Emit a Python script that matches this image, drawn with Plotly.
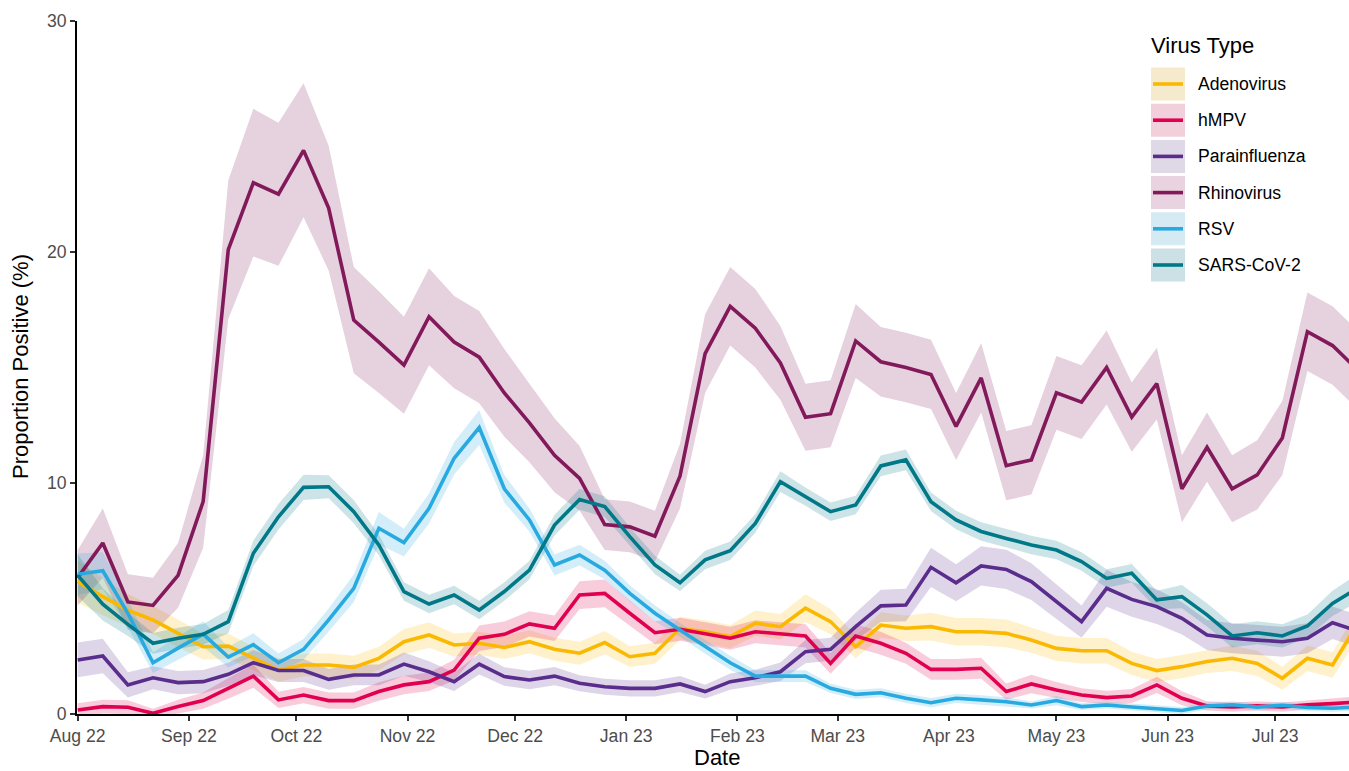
import pandas as pd
import plotly.graph_objects as go

# Weekly surveillance dates (week starting)
weeks = pd.date_range("2022-08-01", periods=52, freq="7D")

virus_types = ["Adenovirus", "hMPV", "Parainfluenza", "Rhinovirus", "RSV", "SARS-CoV-2"]

# Proportion positive (%) per week
adenovirus = [5.73, 5.08, 4.5, 4.07, 3.49, 2.91, 2.94, 2.41, 1.9, 2.12,
              2.12, 2.02, 2.41, 3.13, 3.42, 2.99, 3.06, 2.88, 3.13, 2.8,
              2.63, 3.09, 2.48, 2.63, 3.71, 3.56, 3.35, 3.93, 3.78, 4.58,
              4.0, 2.91, 3.85, 3.71, 3.78, 3.56, 3.56, 3.49, 3.2, 2.84,
              2.74, 2.74, 2.19, 1.88, 2.05, 2.27, 2.41, 2.19, 1.55, 2.41,
              2.12, 3.9]
hmpv = [0.17, 0.32, 0.29, 0.03, 0.32, 0.58, 1.11, 1.64, 0.61, 0.82,
        0.58, 0.58, 0.97, 1.26, 1.4, 1.9, 3.28, 3.45, 3.9, 3.71,
        5.15, 5.22, 4.36, 3.52, 3.67, 3.49, 3.28, 3.56, 3.46, 3.38,
        2.19, 3.38, 3.06, 2.63, 1.93, 1.93, 1.98, 0.97, 1.3, 1.04,
        0.82, 0.71, 0.78, 1.26, 0.68, 0.35, 0.3, 0.35, 0.3, 0.4,
        0.45, 0.52]
parainfluenza = [2.34, 2.51, 1.26, 1.57, 1.36, 1.40, 1.72, 2.22, 1.88, 1.88,
                 1.5, 1.69, 1.69, 2.16, 1.83, 1.40, 2.16, 1.62, 1.47, 1.64,
                 1.33, 1.18, 1.11, 1.11, 1.3, 0.97, 1.40, 1.57, 1.83, 2.7,
                 2.8, 3.78, 4.68, 4.72, 6.35, 5.68, 6.41, 6.26, 5.73, 4.86,
                 4.0, 5.44, 4.96, 4.65, 4.14, 3.42, 3.28, 3.2, 3.13, 3.28,
                 3.95, 3.6]
rhinovirus = [5.9, 7.4, 4.85, 4.7, 6.0, 9.2, 20.1, 23.0, 22.5, 24.4,
              21.9, 17.05, 16.1, 15.1, 17.2, 16.1, 15.45, 13.9, 12.6, 11.2,
              10.2, 8.2, 8.1, 7.7, 10.3, 15.6, 17.65, 16.7, 15.2, 12.85,
              13.0, 16.15, 15.25, 15.0, 14.7, 12.45, 14.55, 10.75, 11.0, 13.9,
              13.5, 15.0, 12.85, 14.3, 9.75, 11.55, 9.75, 10.35, 11.95, 16.55,
              15.95, 14.9]
rsv = [6.05, 6.2, 4.36, 2.22, 2.85, 3.46, 2.46, 3.0, 2.22, 2.8,
       4.07, 5.44, 8.04, 7.42, 8.9, 11.07, 12.4, 9.75, 8.4, 6.45,
       6.88, 6.23, 5.22, 4.36, 3.64, 2.91, 2.22, 1.64, 1.64, 1.64,
       1.11, 0.85, 0.92, 0.68, 0.49, 0.68, 0.61, 0.53, 0.39, 0.58,
       0.32, 0.39, 0.3, 0.22, 0.15, 0.35, 0.4, 0.3, 0.38, 0.28,
       0.25, 0.3]
sars_cov_2 = [6.0, 4.75, 3.88, 3.06, 3.28, 3.45, 4.0, 6.96, 8.54, 9.81,
              9.84, 8.76, 7.32, 5.3, 4.76, 5.15, 4.5, 5.3, 6.23, 8.18,
              9.29, 8.98, 7.68, 6.45, 5.68, 6.67, 7.07, 8.25, 10.06, 9.41,
              8.76, 9.05, 10.74, 11.0, 9.19, 8.4, 7.9, 7.6, 7.32, 7.1,
              6.6, 5.87, 6.09, 4.94, 5.08, 4.29, 3.38, 3.52, 3.38, 3.81,
              4.79, 5.45]

# Half-width of the 95% confidence band (percentage points)
adenovirus_ci = [0.9, 0.8, 0.7, 0.6, 0.6, 0.55, 0.55, 0.5, 0.5, 0.5,
                 0.5, 0.5, 0.5, 0.55, 0.55, 0.5, 0.5, 0.5, 0.5, 0.5,
                 0.5, 0.5, 0.45, 0.45, 0.5, 0.5, 0.5, 0.55, 0.55, 0.6,
                 0.55, 0.5, 0.55, 0.55, 0.6, 0.6, 0.6, 0.6, 0.55, 0.55,
                 0.55, 0.55, 0.5, 0.5, 0.5, 0.5, 0.55, 0.55, 0.5, 0.55,
                 0.55, 0.6]
hmpv_ci = [0.3, 0.3, 0.3, 0.2, 0.3, 0.35, 0.45, 0.5, 0.35, 0.35,
           0.35, 0.35, 0.4, 0.4, 0.4, 0.45, 0.55, 0.55, 0.55, 0.55,
           0.6, 0.6, 0.55, 0.5, 0.5, 0.5, 0.5, 0.5, 0.5, 0.5,
           0.45, 0.5, 0.5, 0.45, 0.45, 0.45, 0.45, 0.35, 0.4, 0.35,
           0.3, 0.3, 0.3, 0.35, 0.3, 0.2, 0.2, 0.2, 0.2, 0.2,
           0.25, 0.25]
parainfluenza_ci = [0.75, 0.75, 0.55, 0.5, 0.5, 0.5, 0.5, 0.55, 0.5, 0.5,
                    0.45, 0.45, 0.45, 0.5, 0.45, 0.4, 0.45, 0.4, 0.4, 0.4,
                    0.35, 0.35, 0.35, 0.35, 0.35, 0.3, 0.35, 0.35, 0.4, 0.5,
                    0.5, 0.6, 0.7, 0.7, 0.85, 0.8, 0.85, 0.85, 0.8, 0.75,
                    0.7, 0.8, 0.75, 0.75, 0.7, 0.65, 0.65, 0.65, 0.65, 0.65,
                    0.7, 0.7]
rhinovirus_ci = [1.2, 1.5, 1.2, 1.2, 1.4, 2.0, 3.0, 3.2, 3.1, 2.9,
                 2.7, 2.3, 2.2, 2.1, 2.1, 2.0, 2.0, 1.9, 1.7, 1.6,
                 1.4, 1.1, 1.1, 1.1, 1.4, 1.7, 1.7, 1.7, 1.6, 1.45,
                 1.45, 1.6, 1.5, 1.5, 1.5, 1.45, 1.5, 1.5, 1.5, 1.6,
                 1.6, 1.6, 1.5, 1.55, 1.45, 1.5, 1.45, 1.5, 1.6, 1.7,
                 1.7, 1.7]
rsv_ci = [0.9, 0.8, 0.6, 0.45, 0.5, 0.55, 0.45, 0.5, 0.4, 0.45,
          0.5, 0.6, 0.7, 0.6, 0.65, 0.7, 0.75, 0.6, 0.5, 0.45,
          0.45, 0.4, 0.35, 0.35, 0.3, 0.3, 0.3, 0.25, 0.25, 0.25,
          0.2, 0.2, 0.2, 0.2, 0.2, 0.2, 0.2, 0.2, 0.15, 0.2,
          0.15, 0.15, 0.15, 0.15, 0.15, 0.15, 0.15, 0.15, 0.15, 0.15,
          0.15, 0.15]
sars_cov_2_ci = [0.9, 0.7, 0.5, 0.45, 0.45, 0.45, 0.5, 0.55, 0.55, 0.55,
                 0.5, 0.5, 0.45, 0.4, 0.4, 0.4, 0.4, 0.4, 0.4, 0.45,
                 0.45, 0.45, 0.4, 0.4, 0.35, 0.4, 0.4, 0.4, 0.45, 0.4,
                 0.4, 0.4, 0.45, 0.45, 0.4, 0.4, 0.4, 0.4, 0.4, 0.4,
                 0.4, 0.4, 0.4, 0.4, 0.5, 0.5, 0.5, 0.5, 0.5, 0.5,
                 0.55, 0.6]

series = {
    "Adenovirus": (adenovirus, adenovirus_ci),
    "hMPV": (hmpv, hmpv_ci),
    "Parainfluenza": (parainfluenza, parainfluenza_ci),
    "Rhinovirus": (rhinovirus, rhinovirus_ci),
    "RSV": (rsv, rsv_ci),
    "SARS-CoV-2": (sars_cov_2, sars_cov_2_ci),
}

colors = {
    "Adenovirus": (250, 185, 0),
    "hMPV": (225, 0, 80),
    "Parainfluenza": (90, 45, 140),
    "Rhinovirus": (130, 25, 90),
    "RSV": (40, 170, 225),
    "SARS-CoV-2": (0, 120, 135),
}


def rgb(c, a=None):
    if a is None:
        return "rgb(%d,%d,%d)" % c
    return "rgba(%d,%d,%d,%.2f)" % (c + (a,))


FONT = "Liberation Sans, Arial, sans-serif"

fig = go.Figure()

x_list = list(weeks)

# Confidence ribbons underneath
for name in virus_types:
    vals, hw = series[name]
    upper = [v + h for v, h in zip(vals, hw)]
    lower = [v - h for v, h in zip(vals, hw)]
    fig.add_trace(go.Scatter(
        x=x_list + x_list[::-1],
        y=upper + lower[::-1],
        fill="toself",
        fillcolor=rgb(colors[name], 0.2),
        line=dict(width=0),
        mode="lines",
        hoverinfo="skip",
        showlegend=False,
    ))

# Weekly proportion lines
for name in virus_types:
    vals, _ = series[name]
    fig.add_trace(go.Scatter(
        x=x_list, y=vals, mode="lines", name=name,
        line=dict(color=rgb(colors[name]), width=3.6),
        showlegend=False,
    ))

# Plot area geometry (pixels) used to place the legend block and titles
W, H = 1349, 771
L, R, T, B = 77, 0, 21, 57
pw, ph = W - L - R, H - T - B


def px(xp):
    return (xp - L) / pw


def py(yp):
    return (H - B - yp) / ph


# Legend keys: tinted square with the series line across it
key_tint = {
    "Adenovirus": "rgb(246,234,204)",
    "hMPV": "rgb(242,208,219)",
    "Parainfluenza": "rgb(223,216,230)",
    "Rhinovirus": "rgb(233,211,224)",
    "RSV": "rgb(214,234,243)",
    "SARS-CoV-2": "rgb(204,225,230)",
}

shapes = []
annotations = [
    dict(x=px(1149), y=py(46), xref="paper", yref="paper",
         text="Virus Type", showarrow=False, xanchor="left", yanchor="middle",
         font=dict(family=FONT, size=22, color="black")),
    # axis titles
    dict(x=px(717), y=py(771), xref="paper", yref="paper",
         text="Date", showarrow=False, xanchor="center", yanchor="bottom",
         borderpad=0,
         font=dict(family=FONT, size=22, color="black")),
    dict(x=px(20), y=py(367), xref="paper", yref="paper", textangle=-90,
         text="Proportion Positive (%)", showarrow=False,
         xanchor="center", yanchor="middle",
         font=dict(family=FONT, size=22, color="black")),
]
for i, name in enumerate(virus_types):
    cy = 84 + 36.2 * i
    shapes.append(dict(
        type="rect", xref="paper", yref="paper",
        x0=px(1151), x1=px(1185), y0=py(cy - 16.5), y1=py(cy + 16.5),
        fillcolor=key_tint[name], line=dict(width=0), layer="above",
    ))
    shapes.append(dict(
        type="line", xref="paper", yref="paper",
        x0=px(1153), x1=px(1183), y0=py(cy), y1=py(cy),
        line=dict(color=rgb(colors[name]), width=3.6), layer="above",
    ))
    annotations.append(dict(
        x=px(1196), y=py(cy), xref="paper", yref="paper",
        text=name, showarrow=False, xanchor="left", yanchor="middle",
        font=dict(family=FONT, size=17.6, color="black"),
    ))

fig.update_layout(
    width=W, height=H, autosize=False,
    margin=dict(l=L, r=R, t=T, b=B, pad=0),
    paper_bgcolor="white", plot_bgcolor="white",
    font=dict(family=FONT, color="#4D4D4D", size=17.6),
    showlegend=False,
    shapes=shapes,
    annotations=annotations,
)

fig.update_xaxes(
    type="date",
    range=["2022-07-31 19:20", "2023-07-21 14:24"],
    tick0="2022-08-01", dtick="M1", tickformat="%b %y",
    ticks="outside", ticklen=5, tickwidth=1.5, tickcolor="#333333",
    showline=True, linecolor="black", linewidth=1.8,
    showgrid=False, zeroline=False,
    tickfont=dict(family=FONT, size=17.6, color="#4D4D4D"),
)
fig.update_yaxes(
    range=[0, 30], tickvals=[0, 10, 20, 30],
    ticks="outside", ticklen=5, tickwidth=1.5, tickcolor="#333333",
    showline=True, linecolor="black", linewidth=1.8,
    showgrid=False, zeroline=False,
    tickfont=dict(family=FONT, size=17.6, color="#4D4D4D"),
)

fig.write_html("out.html")
